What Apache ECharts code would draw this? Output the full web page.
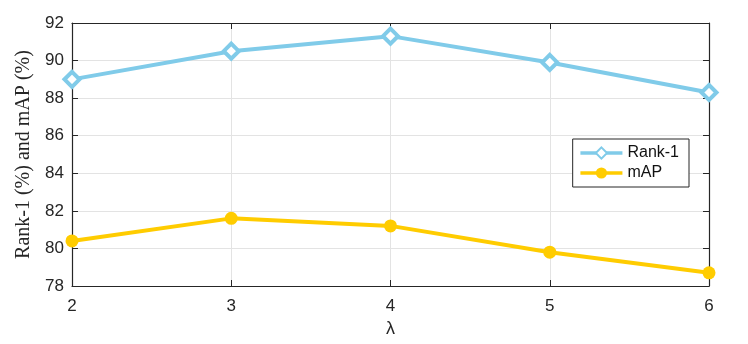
<!DOCTYPE html>
<html>
<head>
<meta charset="utf-8">
<script src="https://cdn.jsdelivr.net/npm/echarts@6/dist/echarts.min.js"></script>
<style>
  html, body { margin: 0; padding: 0; background: #fff; }
  #chart { width: 748px; height: 344px; }
</style>
</head>
<body>
<div id="chart"></div>
<script>
// lambda values on the x axis
const lambdas = [2, 3, 4, 5, 6];
const rank1 = [89.0, 90.5, 91.3, 89.9, 88.3];
const mAP = [80.4, 81.6, 81.2, 79.8, 78.7];
const yTicks = [78, 80, 82, 84, 86, 88, 90, 92];

const axisColor = '#262626';
const gridColor = '#e3e3e3';
const blue = '#80cbe9';
const gold = '#ffcc00';

const pairs = (ys) => lambdas.map((x, i) => [x, ys[i]]);

const chart = echarts.init(document.getElementById('chart'));

const tickLabel = { color: axisColor, fontSize: 17, fontFamily: 'Liberation Sans, Arial, sans-serif' };

chart.setOption({
    animation: false,
    grid: { left: 72, right: 39, top: 23, bottom: 58 },
    legend: {
        right: 59,
        top: 139,
        orient: 'vertical',
        backgroundColor: '#fff',
        borderColor: axisColor,
        borderWidth: 1,
        borderRadius: 0,
        padding: [6, 10, 6, 6],
        itemGap: 4,
        itemWidth: 42,
        itemHeight: 14,
        lineStyle: { width: 3.5 },
        textStyle: { color: '#111', fontSize: 16, fontFamily: 'Liberation Sans, Arial, sans-serif' },
        data: ['Rank-1', 'mAP']
    },
    xAxis: [{
        type: 'value',
        min: 2, max: 6, interval: 1,
        name: 'λ',
        nameLocation: 'middle',
        nameGap: 32,
        nameTextStyle: { color: axisColor, fontSize: 18, fontFamily: 'Liberation Sans, Arial, sans-serif' },
        axisLine: { show: true, lineStyle: { color: axisColor, width: 1.2 } },
        axisTick: { show: true, inside: true, length: 6, lineStyle: { color: axisColor } },
        axisLabel: Object.assign({ margin: 12 }, tickLabel),
        splitLine: { show: true, lineStyle: { color: gridColor, width: 1 } }
    }, {
        type: 'value',
        position: 'top',
        min: 2, max: 6, interval: 1,
        axisLine: { show: true, lineStyle: { color: axisColor, width: 1.2 } },
        axisTick: { show: true, inside: true, length: 6, lineStyle: { color: axisColor } },
        axisLabel: { show: false },
        splitLine: { show: false }
    }],
    yAxis: [{
        type: 'value',
        min: yTicks[0], max: yTicks[yTicks.length - 1], interval: 2,
        name: 'Rank-1 (%) and mAP (%)',
        nameLocation: 'middle',
        nameGap: 36,
        nameTextStyle: { color: axisColor, fontSize: 20, fontFamily: 'Liberation Serif, Times New Roman, serif' },
        axisLine: { show: true, lineStyle: { color: axisColor, width: 1.2 } },
        axisTick: { show: true, inside: true, length: 6, lineStyle: { color: axisColor } },
        axisLabel: Object.assign({ margin: 8 }, tickLabel),
        splitLine: { show: true, lineStyle: { color: gridColor, width: 1 } }
    }, {
        type: 'value',
        position: 'right',
        min: yTicks[0], max: yTicks[yTicks.length - 1], interval: 2,
        axisLine: { show: true, lineStyle: { color: axisColor, width: 1.2 } },
        axisTick: { show: true, inside: true, length: 6, lineStyle: { color: axisColor } },
        axisLabel: { show: false },
        splitLine: { show: false }
    }],
    series: [{
        name: 'Rank-1',
        type: 'line',
        data: pairs(rank1),
        symbol: 'diamond',
        symbolSize: 15,
        lineStyle: { color: blue, width: 4 },
        itemStyle: { color: '#fff', borderColor: blue, borderWidth: 4 },
        z: 3
    }, {
        name: 'mAP',
        type: 'line',
        data: pairs(mAP),
        symbol: 'circle',
        symbolSize: 13,
        lineStyle: { color: gold, width: 4 },
        itemStyle: { color: gold, borderWidth: 0 },
        z: 3
    }]
});
</script>
</body>
</html>
